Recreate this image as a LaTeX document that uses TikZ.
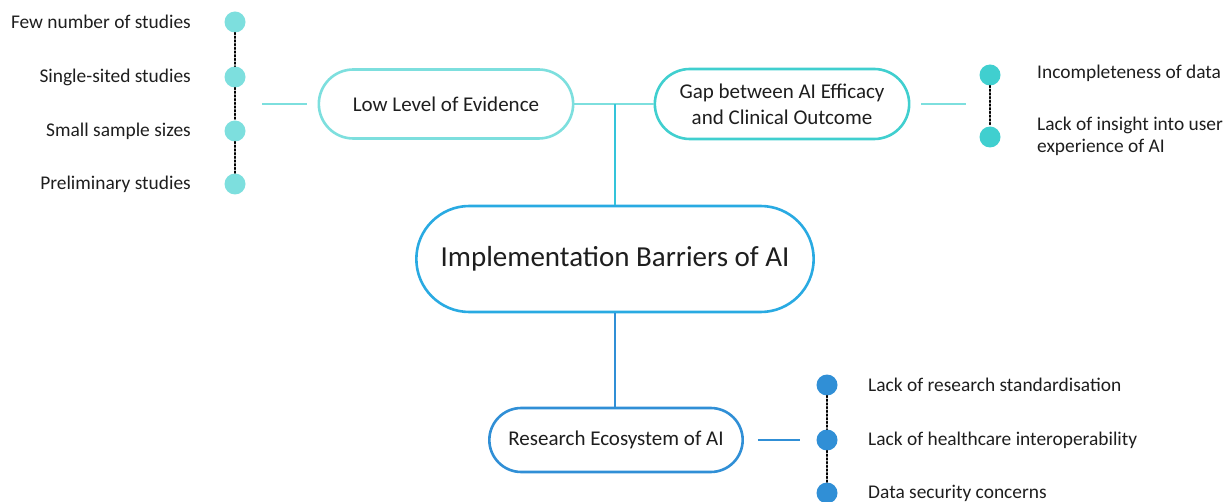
\documentclass[tikz,border=0pt]{standalone}
\usepackage{fontspec}
\setmainfont{Carlito}
\usetikzlibrary{shapes.misc}

\definecolor{evidc}{RGB}{125,223,222}
\definecolor{gapc}{RGB}{64,207,207}
\definecolor{stemc}{RGB}{52,196,218}
\definecolor{implc}{RGB}{41,170,226}
\definecolor{ecosc}{RGB}{48,143,214}
\definecolor{txtc}{RGB}{30,30,30}

\tikzset{
  pill/.style={rounded rectangle, draw, line width=2.6pt, fill=white, text=txtc,
    align=center, font=\fontsize{21}{26}\selectfont},
  bullet/.style={circle, inner sep=0pt, minimum size=21pt},
  item/.style={text=txtc, inner sep=0pt, align=left, font=\fontsize{19.4}{22}\selectfont},
  link/.style={line width=2.4pt},
  chain/.style={line width=1.7pt, dotted, line cap=round}
}

\begin{document}
\begin{tikzpicture}[x=1pt,y=1pt,yscale=-1]
\useasboundingbox (0,0) rectangle (1225,502);

% main topics
\node[pill, draw=evidc, minimum width=261pt, minimum height=69pt] (low) at (446,104) {Low Level of Evidence};
\node[pill, draw=gapc, minimum width=261pt, minimum height=70pt] (gap) at (782,104) {Gap between AI Efficacy\\and Clinical Outcome};
\node[pill, draw=implc, minimum width=404pt, minimum height=106pt, font=\fontsize{29}{34}\selectfont] (impl) at (615,259) {Implementation Barriers of AI};
\node[pill, draw=ecosc, minimum width=260pt, minimum height=64pt] (eco) at (616,440) {Research Ecosystem of AI};

% left group
\foreach \y/\n/\t in {22/1/Few number of studies, 77/2/Single-sited studies, 131/3/Small sample sizes, 184/4/Preliminary studies}{
  \node[bullet, fill=evidc] (l\n) at (235,\y) {};
  \node[item, anchor=east] (lt\n) at (191,\y) {\t};
}
\draw[chain] (l1) -- (l2);
\draw[chain] (l2) -- (l3);
\draw[chain] (l3) -- (l4);
\coordinate (lfork) at (262,104);
\draw[link, draw=evidc] (lfork) -- ([xshift=-11pt]low.west);

% right group
\node[bullet, fill=gapc] (r1) at (990,75) {};
\node[bullet, fill=gapc] (r2) at (990,137) {};
\draw[chain] (r1) -- (r2);
\node[item, anchor=west] (rt1) at (1037,73) {Incompleteness of data};
\node[item, anchor=west] (rt2) at (1037,136) {Lack of insight into user\\experience of AI};
\coordinate (rfork) at (966,104);
\draw[link, draw=evidc] ([xshift=11pt]gap.east) -- (rfork);

% bottom group
\foreach \y/\n/\t in {385/1/Lack of research standardisation, 440/2/Lack of healthcare interoperability, 493/3/Data security concerns}{
  \node[bullet, fill=ecosc] (b\n) at (827,\y) {};
  \node[item, anchor=west] (bt\n) at (868,\y) {\t};
}
\draw[chain] (b1) -- (b2);
\draw[chain] (b2) -- (b3);
\coordinate (bfork) at (800,440);
\draw[link, draw=ecosc] ([xshift=14pt]eco.east) -- (bfork);

% stems
\draw[link, draw=evidc] (low.east) -- (gap.west);
\draw[link, draw=stemc] (impl.north) -- (impl.north |- low.east);
\draw[link, draw=ecosc] (impl.south) -- (impl.south |- eco.north);

\end{tikzpicture}
\end{document}
